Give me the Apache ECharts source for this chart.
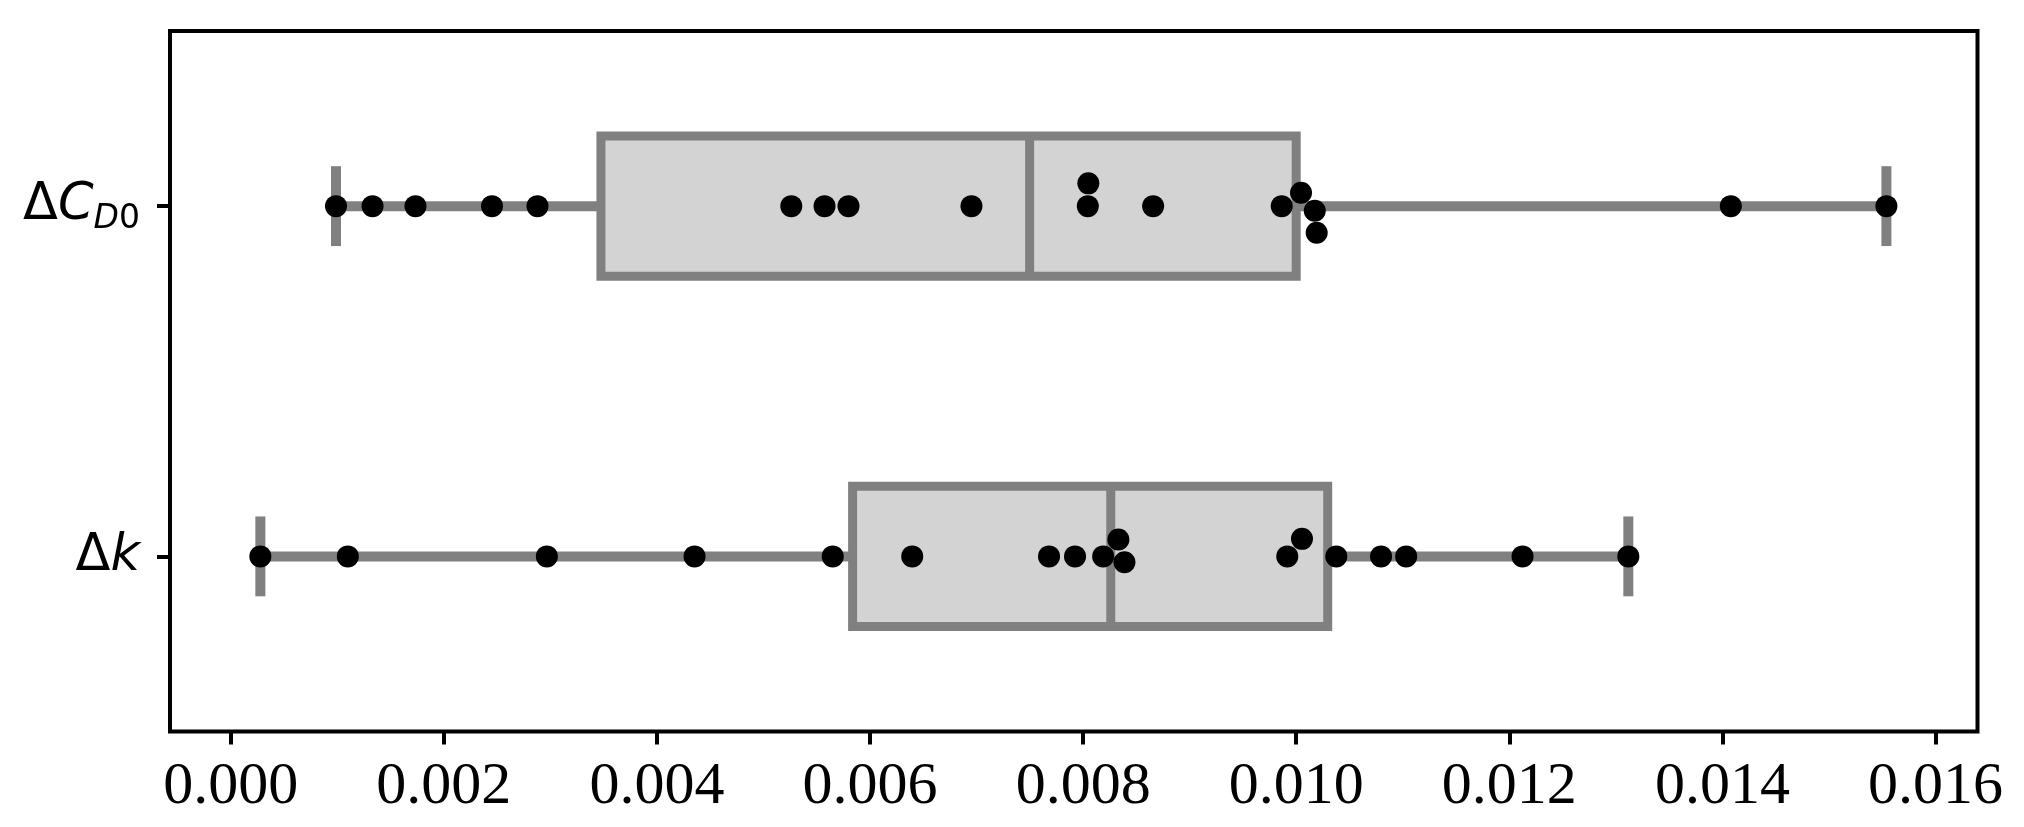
<!DOCTYPE html>
<html>
<head>
<meta charset="utf-8">
<script src="https://cdn.jsdelivr.net/npm/echarts@6/dist/echarts.min.js"></script>
<style>
  html, body { margin: 0; padding: 0; background: #ffffff; }
  #chart { width: 2024px; height: 827px; }
</style>
</head>
<body>
<div id="chart"></div>
<script>
// ---- data ----
var categories = ['dCD0', 'dk'];

var cd0Values = [0.000988, 0.001331, 0.001734, 0.002452, 0.002879, 0.005261, 0.005573, 0.005798,
                 0.006952, 0.008044, 0.008049, 0.008657, 0.009864, 0.010045, 0.010174, 0.010192,
                 0.014079, 0.015539];
// swarm displacement (category units, + = downwards)
var cd0Swarm  = [0, 0, 0, 0, 0, 0, 0, 0,
                 0, 0, -0.065, 0, 0, -0.038, 0.013, 0.076,
                 0, 0];

var kValues = [0.000278, 0.001099, 0.002967, 0.004353, 0.005650, 0.006396, 0.007680, 0.007924,
               0.008188, 0.008331, 0.008388, 0.009916, 0.010054, 0.010376, 0.010796, 0.011032,
               0.012124, 0.013117];
var kSwarm  = [0, 0, 0, 0, 0, 0, 0, 0,
               0, -0.048, 0.017, 0, -0.050, 0, 0, 0,
               0, 0];

var xTicks = [0.000, 0.002, 0.004, 0.006, 0.008, 0.010, 0.012, 0.014, 0.016];
var xMin = -0.000570, xMax = 0.016394;

// ---- box statistics (linear percentiles, 1.5 IQR whiskers) ----
function quantile(sorted, p) {
  var pos = (sorted.length - 1) * p, lo = Math.floor(pos), hi = Math.ceil(pos);
  return sorted[lo] + (sorted[hi] - sorted[lo]) * (pos - lo);
}
function boxStats(vals, idx) {
  var s = vals.slice().sort(function (a, b) { return a - b; });
  var q1 = quantile(s, 0.25), md = quantile(s, 0.5), q3 = quantile(s, 0.75);
  var iqr = q3 - q1;
  var lo = s.filter(function (v) { return v >= q1 - 1.5 * iqr; })[0];
  var inHi = s.filter(function (v) { return v <= q3 + 1.5 * iqr; });
  var hi = inHi[inHi.length - 1];
  return [idx, lo, q1, md, q3, hi];
}
var boxData = [boxStats(cd0Values, 0), boxStats(kValues, 1)];

var pointData = [];
cd0Values.forEach(function (v, i) { pointData.push([v, 0 + cd0Swarm[i]]); });
kValues.forEach(function (v, i) { pointData.push([v, 1 + kSwarm[i]]); });

var BOX_W = 0.40, CAP_W = 0.228;
var GREY = '#808080';

var chart = echarts.init(document.getElementById('chart'), null, { renderer: 'canvas' });
chart.setOption({
  backgroundColor: '#ffffff',
  animation: false,
  grid: {
    left: 170, top: 31, width: 1807.5, height: 700.5,
    show: true, borderColor: '#000000', borderWidth: 4, backgroundColor: 'transparent'
  },
  xAxis: {
    type: 'value', min: xMin, max: xMax, position: 'bottom',
    axisLine: { show: false, onZero: false },
    splitLine: { show: false },
    axisTick: { show: true, customValues: xTicks, length: 13, lineStyle: { color: '#000', width: 4 } },
    axisLabel: {
      customValues: xTicks, margin: 26,
      fontFamily: 'Liberation Serif', fontSize: 60, color: '#000',
      formatter: function (v) { return v.toFixed(3); }
    }
  },
  yAxis: {
    type: 'value', min: -0.5, max: 1.5, inverse: true, position: 'left',
    axisLine: { show: false, onZero: false },
    splitLine: { show: false },
    axisTick: { show: true, customValues: [0, 1], length: 13, lineStyle: { color: '#000', width: 4 } },
    axisLabel: {
      customValues: [0, 1], margin: 30, color: '#000',
      fontFamily: 'DejaVu Sans', fontSize: 50,
      formatter: function (v) {
        if (Math.round(v) === 0) return '{d|Δ}{c|C}{s|D}{z|0}';
        return '{d|Δ}{c|k}';
      },
      rich: {
        d: { fontFamily: 'DejaVu Sans', fontSize: 51, color: '#000', lineHeight: 60 },
        c: { fontFamily: 'DejaVu Sans', fontSize: 51, fontStyle: 'italic', color: '#000', lineHeight: 60 },
        s: { fontFamily: 'DejaVu Sans', fontSize: 33, fontStyle: 'italic', color: '#000', lineHeight: 30, verticalAlign: 'bottom' },
        z: { fontFamily: 'DejaVu Sans', fontSize: 33, color: '#000', lineHeight: 30, verticalAlign: 'bottom' }
      }
    }
  },
  series: [
    {
      type: 'custom',
      z: 2,
      data: boxData,
      encode: { x: [1, 2, 3, 4, 5], y: 0 },
      renderItem: function (params, api) {
        var c = api.value(0);
        var pLo = api.coord([api.value(1), c]);
        var pQ1 = api.coord([api.value(2), c]);
        var pMd = api.coord([api.value(3), c]);
        var pQ3 = api.coord([api.value(4), c]);
        var pHi = api.coord([api.value(5), c]);
        var y = pLo[1];
        var hb = Math.abs(api.size([0, BOX_W / 2])[1]);
        var hc = Math.abs(api.size([0, CAP_W / 2])[1]);
        var ls = { stroke: GREY, lineWidth: 10, fill: null, lineCap: 'butt' };
        return {
          type: 'group',
          children: [
            { type: 'line', shape: { x1: pLo[0], y1: y, x2: pQ1[0], y2: y }, style: ls },
            { type: 'line', shape: { x1: pQ3[0], y1: y, x2: pHi[0], y2: y }, style: ls },
            { type: 'line', shape: { x1: pLo[0], y1: y - hc, x2: pLo[0], y2: y + hc }, style: ls },
            { type: 'line', shape: { x1: pHi[0], y1: y - hc, x2: pHi[0], y2: y + hc }, style: ls },
            { type: 'rect', shape: { x: pQ1[0], y: y - hb, width: pQ3[0] - pQ1[0], height: 2 * hb },
              style: { fill: '#d3d3d3', stroke: GREY, lineWidth: 9, lineJoin: 'miter' } },
            { type: 'line', shape: { x1: pMd[0], y1: y - hb, x2: pMd[0], y2: y + hb }, style: { stroke: GREY, lineWidth: 9 } }
          ]
        };
      }
    },
    {
      type: 'scatter',
      z: 3,
      data: pointData,
      symbol: 'circle',
      symbolSize: 22,
      itemStyle: { color: '#000000', opacity: 1 }
    }
  ]
});
</script>
</body>
</html>
